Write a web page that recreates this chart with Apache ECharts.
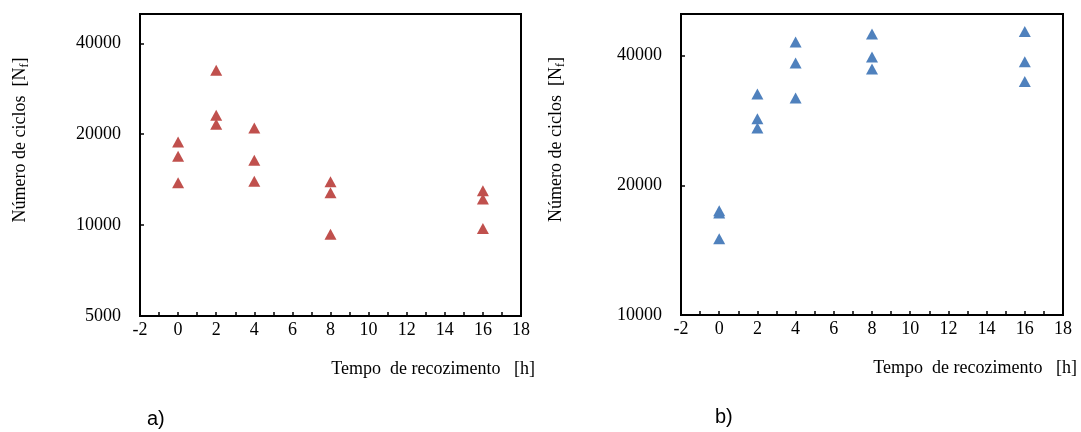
<!DOCTYPE html>
<html>
<head>
<meta charset="utf-8">
<script src="https://cdn.jsdelivr.net/npm/echarts@6/dist/echarts.min.js"></script>
<style>html,body{margin:0;padding:0;background:#fff}#c{width:1081px;height:432px}</style>
</head>
<body>
<div id="c"></div>
<script>
// Tempo de recozimento [h]
const timesA = [0, 0, 0, 2, 2, 2, 4, 4, 4, 8, 8, 8, 16, 16, 16];
const cyclesA = [18860, 16900, 13800, 32560, 23100, 21580, 20980, 16400, 13980, 13910, 12790, 9320, 12990, 12190, 9750];
const timesB = [0, 0, 0, 2, 2, 2, 4, 4, 4, 8, 8, 8, 16, 16, 16];
const cyclesB = [17470, 17260, 15040, 32590, 28550, 27170, 43050, 38470, 31900, 44930, 39720, 37250, 45560, 38740, 34860];
const xTicks = [-2, 0, 2, 4, 6, 8, 10, 12, 14, 16, 18];
const yTicksA = [5000, 10000, 20000, 40000];
const yTicksB = [10000, 20000, 40000];
const yMaxValue = 50000;

const serif = 'Liberation Serif';
const baseA = yTicksA[0], baseB = yTicksB[0];
const toLog = (v, base) => Math.log2(v / base);
const dataA = timesA.map((t, i) => [t, toLog(cyclesA[i], baseA)]);
const dataB = timesB.map((t, i) => [t, toLog(cyclesB[i], baseB)]);

function xAxis(gi) {
  return {
    gridIndex: gi, type: 'value', min: xTicks[0], max: xTicks[xTicks.length - 1], interval: 1,
    axisLine: { show: true, onZero: false, lineStyle: { color: '#000', width: 2 } },
    axisTick: { show: true, inside: true, length: 4, lineStyle: { color: '#000', width: 1.5 } },
    splitLine: { show: false },
    axisLabel: { color: '#000', fontFamily: serif, fontSize: 18, margin: 5,
      formatter: v => (xTicks.indexOf(v) >= 0 ? String(v) : '') },
    name: 'Tempo  de recozimento   [h]',
    nameLocation: 'end', nameGap: 14,
    nameTextStyle: { color: '#000', fontFamily: serif, fontSize: 18, align: 'right', verticalAlign: 'top', padding: [44, 0, 0, 0] }
  };
}
function yAxis(gi, base, ticks) {
  return {
    gridIndex: gi, type: 'value', min: 0, max: toLog(yMaxValue, base), interval: 1,
    axisLine: { show: true, onZero: false, lineStyle: { color: '#000', width: 2 } },
    axisTick: { show: true, inside: true, length: 4, lineStyle: { color: '#000', width: 1.5 } },
    splitLine: { show: false },
    axisLabel: { color: '#000', fontFamily: serif, fontSize: 18, margin: 19,
      formatter: v => {
        const r = Math.round(v);
        if (Math.abs(v - r) > 1e-6) return '';
        const val = Math.round(base * Math.pow(2, r));
        return ticks.indexOf(val) >= 0 ? String(val) : '';
      } },
    name: '{n|Número de ciclos  [N}{s|f}{n|]}',
    nameLocation: 'middle', nameRotate: 90,
    nameGap: gi === 0 ? 109 : 114,
    nameTextStyle: { color: '#000', fontFamily: serif, fontSize: 18, padding: [0, 0, 0, 50],
      rich: { n: { fontFamily: serif, fontSize: 18, color: '#000' },
              s: { fontFamily: serif, fontSize: 12, color: '#000', padding: [9, 0, 0, 0] } } }
  };
}

const chart = echarts.init(document.getElementById('c'), null, { renderer: 'canvas' });
chart.setOption({
  animation: false,
  backgroundColor: '#fff',
  grid: [
    { left: 140, top: 14, width: 381, height: 302, show: true, borderColor: '#000', borderWidth: 2, backgroundColor: 'transparent' },
    { left: 681, top: 14, width: 382, height: 301, show: true, borderColor: '#000', borderWidth: 2, backgroundColor: 'transparent' }
  ],
  xAxis: [xAxis(0), xAxis(1)],
  yAxis: [yAxis(0, baseA, yTicksA), yAxis(1, baseB, yTicksB)],
  series: [
    { type: 'scatter', xAxisIndex: 0, yAxisIndex: 0, data: dataA, symbol: 'triangle', symbolSize: [12, 11], itemStyle: { color: '#C0504D', opacity: 1 } },
    { type: 'scatter', xAxisIndex: 1, yAxisIndex: 1, data: dataB, symbol: 'triangle', symbolSize: [12, 11], itemStyle: { color: '#4F81BD', opacity: 1 } }
  ],
  graphic: [
    { type: 'text', left: 147, top: 409, style: { text: 'a)', font: '20px "Liberation Sans"', fill: '#000' } },
    { type: 'text', left: 715, top: 407, style: { text: 'b)', font: '20px "Liberation Sans"', fill: '#000' } }
  ]
});
</script>
</body>
</html>
